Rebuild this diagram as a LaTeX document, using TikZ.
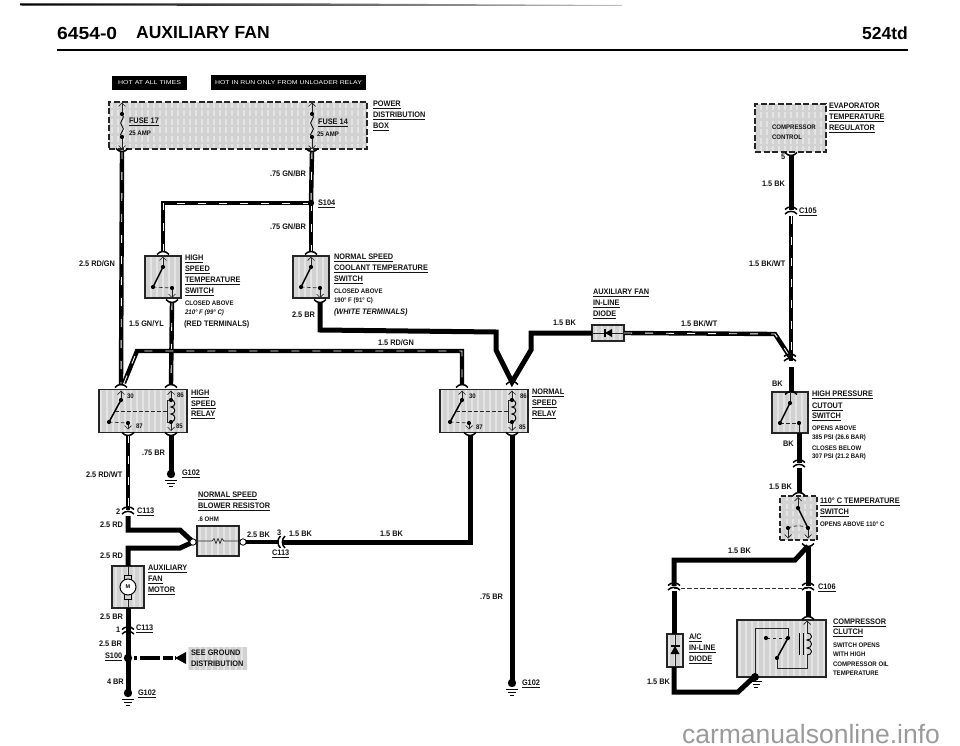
\documentclass[tikz,border=0pt]{standalone}
\usepackage{fontspec}
\usepackage{graphicx}
\setmainfont{Liberation Sans}
\definecolor{boxgray}{HTML}{D2D2D2}
\definecolor{boxlight}{HTML}{E4E4E4}
\definecolor{wmgray}{HTML}{9A9A9A}
\newcommand\Txs{.92}
\newcommand\T[1]{\scalebox{\Txs}[1]{#1}}
\newcommand\U[1]{\setbox0\hbox{\scalebox{\Txs}[1]{#1}}\rlap{\rule[-2pt]{\wd0}{.7pt}}\box0}
\newcommand\Lb[4]{\node[lab] (#1) at (#2,#3) {\T{#4}};}
\newcommand\Lu[4]{\node[lab] (#1) at (#2,#3) {\U{#4}};}
\newcommand\Ls[4]{\node[labs] (#1) at (#2,#3) {\T{#4}};}
\tikzset{
  lab/.style={anchor=west,inner sep=0pt,outer sep=0pt,font=\fontsize{8}{8}\selectfont\bfseries,text=black!92},
  labs/.style={anchor=west,inner sep=0pt,outer sep=0pt,font=\fontsize{6.6}{6.6}\selectfont\bfseries,text=black!92},
  stripes/.style={fill=boxgray,path picture={\foreach \i in {-132,-126,...,132}
      {\draw[boxlight,line width=2pt] ([xshift=\i pt]path picture bounding box.north) -- ([xshift=\i pt]path picture bounding box.south);}}},
  fbox/.style={draw=black!85,stripes,line width=1.5pt,inner sep=0pt,outer sep=0pt},
  dbox/.style={fbox,dash pattern=on 6pt off 2.5pt,line width=1.7pt},
  wire/.style={line width=5pt,black,miter limit=6},
  twire/.style={line width=4.4pt,black,miter limit=6,postaction={draw=white,line width=.9pt,dash pattern=on 8pt off 13pt}},
  thn/.style={line width=.7pt,black!85},
  ctl/.style={line width=.7pt,black!85,dash pattern=on 3.5pt off 2.5pt},
  bld/.style={line width=1.5pt,black},
  arc1/.style={line width=1.5pt,black},
  archt/.pic={\draw[arc1] (-6,2.5) .. controls (-3,-1.5) and (3,-1.5) .. (6,2.5);},
  archb/.pic={\draw[arc1] (-6,-2.5) .. controls (-3,1.5) and (3,1.5) .. (6,-2.5);},
  conn/.pic={\draw[arc1] (-6,-.5) .. controls (-3,-4) and (3,-4) .. (6,-.5);
             \draw[arc1] (-6,4) .. controls (-3,.5) and (3,.5) .. (6,4);},
  chevu/.pic={\draw[thn] (-3.5,3.5) -- (0,0) -- (3.5,3.5);},
  chevd/.pic={\draw[thn] (-3.5,-3.5) -- (0,0) -- (3.5,-3.5);},
  gnd/.pic={\fill[black] (0,0) circle (4.2pt);
            \draw[line width=.9pt] (-6,6.5) -- (6,6.5) (-4,9.5) -- (4,9.5) (-2,12.5) -- (2,12.5);},
  tsw/.pic={\draw[thn] (0,-19) -- (0,-10) (9,11) -- (9,20);
     \draw[bld] (0,-10) -- (-10,10);
     \draw[ctl] (-10,10) -- (9,11);
     \fill (0,-10) circle (2.1pt) (-10,10) circle (2.1pt) (9,11) circle (2.1pt);
     \pic at (0,-20) {chevu}; \pic at (9,20.5) {chevd};},
  rly/.pic={\draw[thn] (-22,-20) -- (-22,-11) (-15,12) -- (-15,17) (28,-20) -- (28,-11) (28,11) -- (28,19);
     \draw[bld] (-22,-11) -- (-34,11);
     \draw[ctl] (-34,11) -- (-15,12);
     \draw[ctl] (-28,0) -- (25,0);
     \draw[thn] (28,-11) -- (24,-11) -- (24,11) -- (28,11);
     \draw[line width=1pt] (28,-11) .. controls (33,-11) and (33,-4) .. (28,-4) .. controls (33,-4) and (33,3) .. (28,3) .. controls (33,3) and (33,11) .. (28,11);
     \fill (-22,-11) circle (2.1pt) (-34,11) circle (2.1pt) (-15,12) circle (2.1pt) (28,-11) circle (2.1pt) (28,11) circle (2.1pt);
     \pic at (-22,-20) {chevu}; \pic at (28,-20) {chevu}; \pic at (-15,18) {chevd}; \pic at (28,19.5) {chevd};},
  fuse/.pic={\draw[thn] (0,0) -- (0,11) (0,34) -- (0,45);
     \draw[line width=.8pt] (0,11) .. controls (5,15) and (-5,19) .. (0,23) .. controls (5,27) and (-5,31) .. (0,34);
     \fill (0,11) circle (2.1pt) (0,34) circle (2.1pt);
     \pic at (0,0) {chevu}; \pic at (0,46) {chevd};},
}
\begin{document}
\begin{tikzpicture}[x=1pt,y=-1pt]
\useasboundingbox (0,0) rectangle (960,746);
% ---- header
\shade[left color=black,right color=black!25] (20,3.5) -- (330,3.5) -- (622,5) -- (622,6) -- (330,6) -- (20,5.5) -- cycle;
\node[anchor=west,inner sep=0pt,font=\fontsize{17.5}{17.5}\selectfont\bfseries] (t1) at (57,33) {\scalebox{1.1}[1]{6454-0}};
\node[anchor=west,inner sep=0pt,font=\fontsize{17.5}{17.5}\selectfont\bfseries] (t2) at (136,33) {AUXILIARY FAN};
\node[anchor=east,inner sep=0pt,font=\fontsize{17.5}{17.5}\selectfont\bfseries] (t3) at (908,33) {524td};
\coordinate (ruleA) at (57,50); \coordinate (ruleB) at (908,50);
\draw[line width=2pt] (ruleA) -- (ruleB);
\node[fill=black,text=white,minimum width=75,minimum height=14,inner sep=0pt,font=\fontsize{5.6}{5.6}\selectfont] (hot1) at (149.5,83) {\scalebox{1.25}[1]{HOT AT ALL TIMES}};
\node[fill=black,text=white,minimum width=155,minimum height=15,inner sep=0pt,font=\fontsize{5.6}{5.6}\selectfont] (hot2) at (288.5,83) {\scalebox{1.23}[1]{HOT IN RUN ONLY FROM UNLOADER RELAY}};
% ---- boxes
\node[dbox,minimum width=258,minimum height=47] (pdb) at (238,125.5) {};
\node[fbox,minimum width=36,minimum height=42] (hst) at (163,277) {};
\node[fbox,minimum width=36,minimum height=42] (nst) at (311,277) {};
\node[fbox,minimum width=88,minimum height=43] (hsr) at (143,411) {};
\node[fbox,minimum width=88,minimum height=43] (nsr) at (484,411) {};
\node[fbox,minimum width=42,minimum height=30] (res) at (218,541) {};
\node[fbox,minimum width=32,minimum height=42] (fan) at (128,587) {};
\node[fbox,minimum width=32,minimum height=16] (adi) at (608,333) {};
\node[dbox,minimum width=71,minimum height=48] (evp) at (790.5,128) {};
\node[fbox,minimum width=36,minimum height=41] (hps) at (790,412.5) {};
\node[dbox,minimum width=37,minimum height=44,dash pattern=on 5pt off 2.5pt] (tsw) at (798.5,518) {};
\node[fbox,minimum width=89,minimum height=57] (cmp) at (781.5,648.5) {};
\node[fbox,minimum width=16,minimum height=33] (acd) at (675,650.5) {};
\node[stripes,minimum width=59,minimum height=23,inner sep=0pt] (gbg) at (217.5,658.5) {};
% ---- junction points
\foreach \n/\x/\y in {
  f17/122/151, f14/312/151, s104/311/203, hsin/163/252, nstin/311/252,
  hsout/172/302, hsr30c/137/351, hsr30/121/385, hsr86/171/385, nstout/320/302, nstA/320/330,
  nstB/496/332, nstC/496/350, vtip/512/382, vC/531/350, vB/531/333, hsr30a/124/383,
  nr30c/462/351, nr30/462/385, r87o/128/435, c113a/128/510, c113b/128/516, ya/128/530, yb/180/530,
  yc/193/542, yd/180/548, ye/128/548, fanin/128/566, fanout/128/608, c113d/128/630,
  s100/128/658, g102b/128/693, r85o/171/435, g102a/171/474, arrowT/175/658, s100e/134/658,
  rout/243/542, c113c/279/542, c113e/283/542, nr87T/470/542, nr87/470/435, nr85/512/435, g102c/512/683,
  evo/791/155, c105/791/210, c105b/791/216, mgA/775/334, mgB/790/357, c105e/791/361, c105f/791/367,
  hpin/791/392, hpout/799/433, c1/799/463, c2/799/468, hpe/799/493, tout/808/546, cmpin/808/617,
  bra/795/560, brb/674/560, brc/674/586, brd/674/591, bre/674/634, acdo/674/667, brf/674/692, brg/738/692, brh/754/677,
  c106a/674/588, c106b/808/588, adiL/592/333, adiR/624/333, t1/808/586, t2/808/591}
  {\coordinate (\n) at (\x,\y);}
% ---- wires
\draw[twire] (f17) -- (hsr30);
\draw[twire] (f14) -- (s104);
\draw[twire] (s104) -- (nstin);
\draw[twire] (s104) -- (163,203) -- (hsin);
\draw[twire] (hsout) -- (hsr86);
\draw[wire] (nstout) -- (nstA) -- (nstB) -- (nstC) -- (vtip) -- (vC) -- (vB) -- (adiL);
\draw[twire] (hsr30a) -- (hsr30c) -- (nr30c) -- (nr30);
\draw[twire] (r87o) -- (c113a);
\draw[wire] (c113b) -- (ya) -- (yb) -- (yc) -- (yd) -- (ye) -- (fanin);
\draw[wire] (fanout) -- (c113d) -- (s100) -- (g102b);
\draw[wire] (r85o) -- (g102a);
\draw[line width=4.8pt,dash pattern=on 2.5pt off 3pt on 20pt off 3pt on 10pt off 2pt] (s100e) -- (arrowT);
\fill (arrowT) -- ++(11,-6) -- ++(0,12) -- cycle;
\draw[line width=3.5pt] (rout) -- (c113c);
\draw[wire] (c113e) -- (nr87T) -- (nr87);
\draw[wire] (nr85) -- (g102c);
\draw[twire] (adiR) -- (mgA) -- (mgB);
\draw[wire] (evo) -- (c105);
\draw[twire] (c105b) -- (c105e);
\draw[wire] (c105f) -- (hpin);
\draw[wire] (hpout) -- (c1);
\draw[wire] (c2) -- (hpe);
\draw[wire] (tout) -- (bra) -- (brb) -- (brc);
\draw[wire] (brd) -- (bre);
\draw[wire] (tout) -- (t1);
\draw[wire] (t2) -- (cmpin);
\draw[wire] (acdo) -- (brf) -- (brg) -- (brh);
\draw[line width=.6pt,black!80,dash pattern=on 4.5pt off 2pt] (c106a) -- (c106b);
% ---- arches and connectors
\foreach \p in {hsin,nstin,hsr30,hsr86,nr30,vtip,hpin,hpe,cmpin} {\pic at (\p) {archt};}
\foreach \p in {f17,f14,hsout,nstout,r87o,r85o,nr87,nr85,evo,tout} {\pic at (\p) {archb};}
\foreach \p/\y in {c113a,c113d,c105,c1,mgB,brc,t1} {\pic at (\p) {conn};}
\pic[rotate=90] at (281,542) {conn};
\fill (s104) circle (3.2pt) (s100) circle (4.2pt);
\pic at (g102a) {gnd};
\pic at (g102b) {gnd};
\pic at (g102c) {gnd};
\draw[fill=white,line width=.8pt] (yc) circle (3.2pt) (rout) circle (3.2pt);
% ---- inside boxes
\pic at (122,103) {fuse};
\pic at (312,103) {fuse};
\pic at (163,277) {tsw};
\pic at (311,277) {tsw};
\pic at (143,411) {rly};
\pic at (484,411) {rly};
% resistor
\coordinate (rL) at (res.west); \coordinate (rR) at (res.east);
\draw[thn] (rL) -- (212,541) -- (214,538.5) -- (216,543.5) -- (218,538.5) -- (220,543.5) -- (222,538.5) -- (224,541) -- (rR);
% motor
\coordinate (mT) at (fan.north); \coordinate (mB) at (fan.south);
\draw[thn] (mT) -- (mB);
\draw[fill=boxgray,line width=.7pt] (124.5,575) rectangle (131.5,599);
\draw[fill=white,line width=1pt] (128,587) circle (8pt);
\node[inner sep=0pt,font=\fontsize{5.5}{5.5}\selectfont\bfseries] (M) at (128,587) {M};
% aux diode
\draw[thn] (adi.west) -- (adi.east);
\fill (605,333) -- (612,329) -- (612,337) -- cycle;
\draw[line width=1.2pt] (605,329) -- (605,337);
% a/c diode
\draw[thn] (acd.north) -- (acd.south);
\fill (675,646) -- (670.5,654) -- (679.5,654) -- cycle;
\draw[line width=1.2pt] (670.5,646) -- (679.5,646);
% high pressure switch
\draw[thn] (790,392) -- (790,403) (799,423) -- (799,433);
\draw[bld] (790,403) -- (780,423);
\draw[ctl] (780,423) -- (799,423);
\fill (790,403) circle (2.1pt) (780,423) circle (2.1pt) (799,423) circle (2.1pt);
% 110C switch
\draw[thn] (798,498) -- (798,508) (808,528) -- (808,537) (788,528) -- (788,537);
\draw[bld] (798,508) -- (808,528);
\draw[ctl] (788,528) .. controls (795,525) and (802,525) .. (808,528);
\fill (798,508) circle (2.1pt) (788,528) circle (2.1pt) (808,528) circle (2.1pt);
\pic at (798,497.5) {chevu}; \pic at (808,538) {chevd}; \pic at (788,538) {chevd};
% compressor clutch
\pic at (807,621) {chevu};
\draw[thn] (807,621) -- (807,633) (807,655) -- (807,668) -- (777,668) -- (777,658);
\draw[line width=.9pt] (807,633) .. controls (813,633) and (813,640) .. (807,640) .. controls (813,640) and (813,648) .. (807,648) .. controls (813,648) and (813,655) .. (807,655);
\draw[line width=.9pt] (799,633) -- (799,655) (803,633) -- (803,655);
\draw[bld] (777,658) -- (788,638);
\draw[ctl] (788,638) -- (766,638);
\draw[thn] (788,638) -- (788,628) -- (755,628) -- (755,677);
\fill (777,658) circle (2.1pt) (788,638) circle (2.1pt) (766,638) circle (2.1pt) (755,677) circle (4pt);
\draw[line width=.9pt] (752,681) -- (762,681) (753,684) -- (760,684) (754,687) -- (758,687);
% ---- labels
\Lu{a1}{129}{122}{FUSE 17} \Ls{a2}{129}{133}{25 AMP}
\Lu{a3}{318}{123}{FUSE 14} \Ls{a4}{317}{134}{25 AMP}
\Lu{a5}{373}{105}{POWER} \Lu{a6}{373}{115.5}{DISTRIBUTION} \Lu{a7}{373}{127}{BOX}
\Lb{a8}{270}{174}{.75 GN/BR} \Lb{a9}{270}{227}{.75 GN/BR} \Lu{a10}{318}{204}{S104}
\Lb{a11}{79}{264}{2.5 RD/GN}
\Lu{b1}{185}{259}{HIGH} \Lu{b2}{185}{270}{SPEED} \Lu{b3}{185}{281}{TEMPERATURE} \Lu{b4}{185}{292}{SWITCH}
\Ls{b5}{185}{303}{CLOSED ABOVE} \Ls{b6}{185}{313}{\itshape 210° F (99° C)} \Lb{b7}{184}{324}{(RED TERMINALS)}
\Lb{b8}{129}{324}{1.5 GN/YL}
\Lu{c1}{334}{258}{NORMAL SPEED} \Lu{c2}{334}{269}{COOLANT TEMPERATURE} \Lu{c3}{334}{280}{SWITCH}
\Ls{c4}{334}{291}{CLOSED ABOVE} \Ls{c5}{334}{301}{190° F (91° C)} \Lb{c6}{334}{312}{\itshape (WHITE TERMINALS)}
\Lb{c7}{292}{315}{2.5 BR} \Lb{c8}{378}{343}{1.5 RD/GN}
\Ls{d1}{127}{396}{30} \Ls{d2}{177}{395}{86} \Ls{d3}{136}{426}{87} \Ls{d4}{176}{426}{85}
\Lu{d5}{191}{394}{HIGH} \Lu{d6}{191}{404.5}{SPEED} \Lu{d7}{191}{415}{RELAY}
\Lb{d8}{142}{453}{.75 BR} \Lb{d9}{86}{475}{2.5 RD/WT} \Lu{d10}{182}{474}{G102}
\Lu{e1}{198}{496}{NORMAL SPEED} \Lu{e2}{198}{507}{BLOWER RESISTOR} \Ls{e3}{198}{519}{.6 OHM}
\Lb{e4}{116}{512}{2} \Lu{e5}{137}{512}{C113} \Lb{e6}{100}{525}{2.5 RD} \Lb{e7}{100}{556}{2.5 RD}
\Lb{e8}{247}{535}{2.5 BK} \Lb{e9}{277}{533}{3} \Lb{e10}{289}{534}{1.5 BK} \Lu{e11}{272}{554}{C113} \Lb{e12}{380}{534}{1.5 BK}
\Lu{f1}{148}{569}{AUXILIARY} \Lu{f2}{148}{580}{FAN} \Lu{f3}{148}{591}{MOTOR}
\Lb{f4}{100}{617}{2.5 BR} \Lb{f5}{116}{630}{1} \Lu{f6}{136}{629}{C113} \Lb{f7}{99}{644}{2.5 BR}
\Lu{f8}{105}{657}{S100} \Lb{f9}{107}{682}{4 BR} \Lu{f10}{138}{694}{G102}
\Lb{f11}{191}{653}{SEE GROUND} \Lb{f12}{191}{664}{DISTRIBUTION}
\Lb{f13}{480}{597}{.75 BR} \Lu{f14}{522}{684}{G102}
\Ls{g1}{469}{396}{30} \Ls{g2}{520}{396}{86} \Ls{g3}{476}{427}{87} \Ls{g4}{519}{427}{85}
\Lu{g5}{532}{393}{NORMAL} \Lu{g6}{532}{404}{SPEED} \Lu{g7}{532}{415}{RELAY}
\Lu{g8}{593}{293}{AUXILIARY FAN} \Lu{g9}{593}{304}{IN-LINE} \Lu{g10}{593}{315}{DIODE}
\Lb{g11}{553}{323}{1.5 BK} \Lb{g12}{681}{324}{1.5 BK/WT}
\Lu{h1}{829}{107}{EVAPORATOR} \Lu{h2}{829}{118}{TEMPERATURE} \Lu{h3}{829}{129}{REGULATOR}
\Ls{h4}{772}{127}{COMPRESSOR} \Ls{h5}{772}{137}{CONTROL}
\Lb{h6}{781}{157}{5} \Lb{h7}{762}{184}{1.5 BK} \Lu{h8}{799}{212}{C105} \Lb{h9}{749}{264}{1.5 BK/WT}
\Lb{i1}{772}{384}{BK} \Lu{i2}{812}{395}{HIGH PRESSURE} \Lu{i3}{812}{407}{CUTOUT} \Lu{i4}{812}{417}{SWITCH}
\Ls{i5}{812}{428}{OPENS ABOVE} \Ls{i6}{812}{438}{385 PSI (26.6 BAR)} \Ls{i7}{812}{448}{CLOSES BELOW} \Ls{i8}{812}{457}{307 PSI (21.2 BAR)}
\Lb{i9}{783}{444}{BK} \Lb{i10}{769}{487}{1.5 BK}
\Lu{j1}{820}{502}{110° C TEMPERATURE} \Lu{j2}{820}{513}{SWITCH} \Ls{j3}{820}{524}{OPENS ABOVE 110° C}
\Lb{j4}{728}{551}{1.5 BK} \Lu{j5}{818}{588}{C106}
\Lu{k1}{833}{623}{COMPRESSOR} \Lu{k2}{833}{633}{CLUTCH} \Ls{k3}{833}{645}{SWITCH OPENS} \Ls{k4}{833}{654}{WITH HIGH}
\Ls{k5}{833}{664}{COMPRESSOR OIL} \Ls{k6}{833}{673}{TEMPERATURE}
\Lu{k7}{689}{638}{A/C} \Lu{k8}{689}{649}{IN-LINE} \Lu{k9}{689}{660}{DIODE} \Lb{k10}{647}{682}{1.5 BK}
% ---- watermark
\node[anchor=base,inner sep=0pt,text=wmgray,font=\fontsize{26.5}{26.5}\selectfont] (wm) at (811,743) {carmanualsonline.info};
\end{tikzpicture}
\end{document}
